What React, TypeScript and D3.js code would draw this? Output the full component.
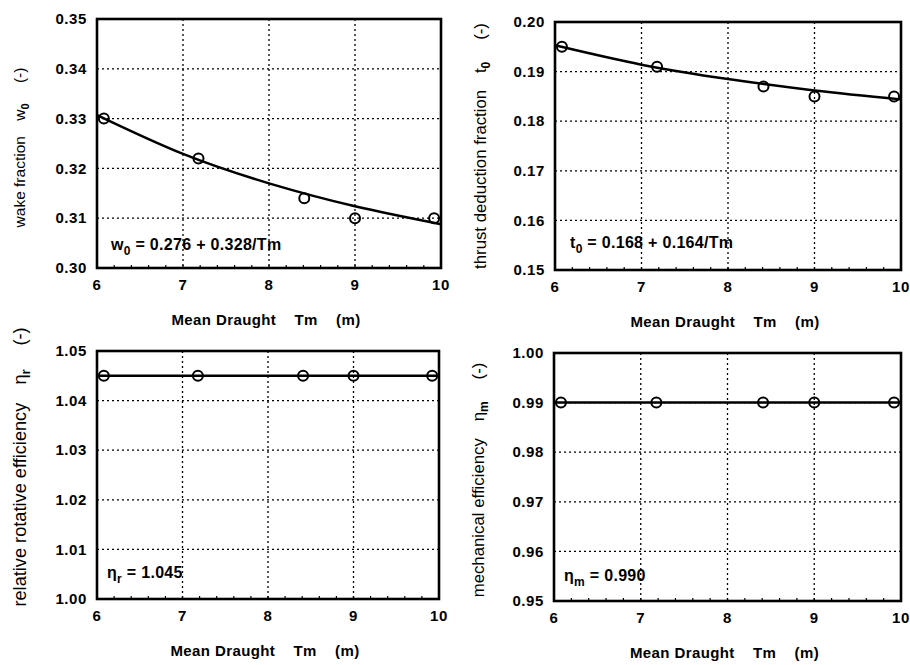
import React from 'react';
import * as d3 from 'd3';

// measured points (mean draught in m)
const draught = [6.08, 7.18, 8.41, 9.0, 9.92];
const wake = [0.330, 0.322, 0.314, 0.310, 0.310];
const thrust = [0.195, 0.191, 0.187, 0.185, 0.185];
const rotative = [1.045, 1.045, 1.045, 1.045, 1.045];
const mechanical = [0.990, 0.990, 0.990, 0.990, 0.990];

const fitDraught = [6, 7, 8, 9, 10];
const wakeFit = [0.3307, 0.3229, 0.3170, 0.3124, 0.3088];
const thrustFit = [0.1953, 0.1914, 0.1885, 0.1862, 0.1844];
const rotativeFit = [1.045, 1.045, 1.045, 1.045, 1.045];
const mechanicalFit = [0.990, 0.990, 0.990, 0.990, 0.990];

const xTicks = [6, 7, 8, 9, 10];
const wakeTicks = ['0.30', '0.31', '0.32', '0.33', '0.34', '0.35'];
const thrustTicks = ['0.15', '0.16', '0.17', '0.18', '0.19', '0.20'];
const rotativeTicks = ['1.00', '1.01', '1.02', '1.03', '1.04', '1.05'];
const mechanicalTicks = ['0.95', '0.96', '0.97', '0.98', '0.99', '1.00'];

const FONT = 'Arial, "Liberation Sans", Helvetica, sans-serif';

type PanelProps = {
  left: number; top: number; width: number; height: number;
  ys: number[]; fit: number[]; ticks: string[];
  label: [string, string, string];
  note: [string, string, string];
  noteX: number; noteY: number; labelX: number; labelSize: number; labelShift: number;
};

function Panel({ left, top, width, height, ys, fit, ticks, label, note, noteX, noteY, labelX, labelSize, labelShift }: PanelProps) {
  const x = d3.scaleLinear().domain([6, 10]).range([0, width]);
  const yVals = ticks.map(Number);
  const y = d3.scaleLinear().domain([yVals[0], yVals[yVals.length - 1]]).range([height, 0]);

  const line = d3.line<number>()
    .x((d, i) => x(fitDraught[i]))
    .y(d => y(d))
    .curve(d3.curveNatural);

  const minor = d3.range(6, 10.001, 0.2);

  return (
    <g transform={`translate(${left},${top})`} fontFamily={FONT}>
      {/* grid */}
      {xTicks.slice(1, -1).map(t => (
        <line key={'gx' + t} x1={x(t)} x2={x(t)} y1={0} y2={height}
          stroke="#000" strokeWidth={1.3} strokeDasharray="2,3" />
      ))}
      {yVals.slice(1, -1).map(t => (
        <line key={'gy' + t} x1={0} x2={width} y1={y(t)} y2={y(t)}
          stroke="#000" strokeWidth={1.3} strokeDasharray="2,3" />
      ))}
      {minor.map((t, i) => (
        <line key={'mt' + i} x1={x(t)} x2={x(t)} y1={height} y2={height - 3}
          stroke="#000" strokeWidth={1.2} />
      ))}
      {/* fit */}
      <path d={line(fit) || ''} fill="none" stroke="#000" strokeWidth={2.5} />
      {/* points */}
      {ys.map((v, i) => (
        <circle key={'p' + i} cx={x(draught[i])} cy={y(v)} r={5}
          fill="none" stroke="#000" strokeWidth={2} />
      ))}
      <rect x={0} y={0} width={width} height={height} fill="none" stroke="#000" strokeWidth={2.6} />
      {/* tick labels */}
      {ticks.map(t => (
        <text key={'yt' + t} x={-10} y={y(Number(t))} dy="0.35em" textAnchor="end"
          fontSize={15} fontWeight="bold" letterSpacing={0.6}>{t}</text>
      ))}
      {xTicks.map(t => (
        <text key={'xt' + t} x={x(t)} y={height + 22} textAnchor="middle"
          fontSize={15} fontWeight="bold" letterSpacing={0.6}>{t}</text>
      ))}
      <text x={width / 2 - 3} y={height + 57} textAnchor="middle" fontSize={15}
        fontWeight="bold" letterSpacing={0.4} style={{ whiteSpace: 'pre' }}>{'Mean Draught    Tm    (m)'}</text>
      <text transform={`translate(${labelX},${height / 2 + labelShift}) rotate(-90)`} textAnchor="middle"
        fontSize={labelSize} dy="0.35em">
        {label[0]}
        <tspan dx={labelSize}>{label[1]}</tspan>
        <tspan fontSize={labelSize * 0.72} fontWeight="bold" dy={4}>{label[2]}</tspan>
        <tspan dx={labelSize * 1.3} dy={-4}>(-)</tspan>
      </text>
      <text x={noteX} y={noteY} fontSize={16} fontWeight="bold" letterSpacing={0.3} style={{ whiteSpace: 'pre' }}>
        {note[0]}<tspan fontSize={12} dy={5}>{note[1]}</tspan>
        <tspan dy={-5}>{note[2]}</tspan>
      </text>
    </g>
  );
}

export default function App() {
  return (
    <svg width={910} height={665} style={{ position: 'absolute', left: 0, top: 0, background: '#fff' }}>
      <Panel left={97} top={19} width={344} height={249} ys={wake} fit={wakeFit} ticks={wakeTicks}
        label={['wake fraction', 'w', '0']} note={['w', '0', ' = 0.276 + 0.328/Tm']}
        noteX={14} noteY={231} labelX={-77} labelSize={15.5} labelShift={4} />
      <Panel left={555} top={22} width={346} height={248} ys={thrust} fit={thrustFit} ticks={thrustTicks}
        label={['thrust deduction fraction', 't', '0']} note={['t', '0', ' = 0.168 + 0.164/Tm']}
        noteX={15} noteY={226} labelX={-75} labelSize={16.8} labelShift={0} />
      <Panel left={97} top={351} width={342} height={248} ys={rotative} fit={rotativeFit} ticks={rotativeTicks}
        label={['relative rotative efficiency', 'η', 'r']} note={['η', 'r', ' = 1.045']}
        noteX={10} noteY={227} labelX={-77} labelSize={18.2} labelShift={-8} />
      <Panel left={554} top={353} width={347} height={248} ys={mechanical} fit={mechanicalFit} ticks={mechanicalTicks}
        label={['mechanical efficiency', 'η', 'm']} note={['η', 'm', ' = 0.990']}
        noteX={10} noteY={228} labelX={-76} labelSize={16.8} labelShift={3} />
    </svg>
  );
}
